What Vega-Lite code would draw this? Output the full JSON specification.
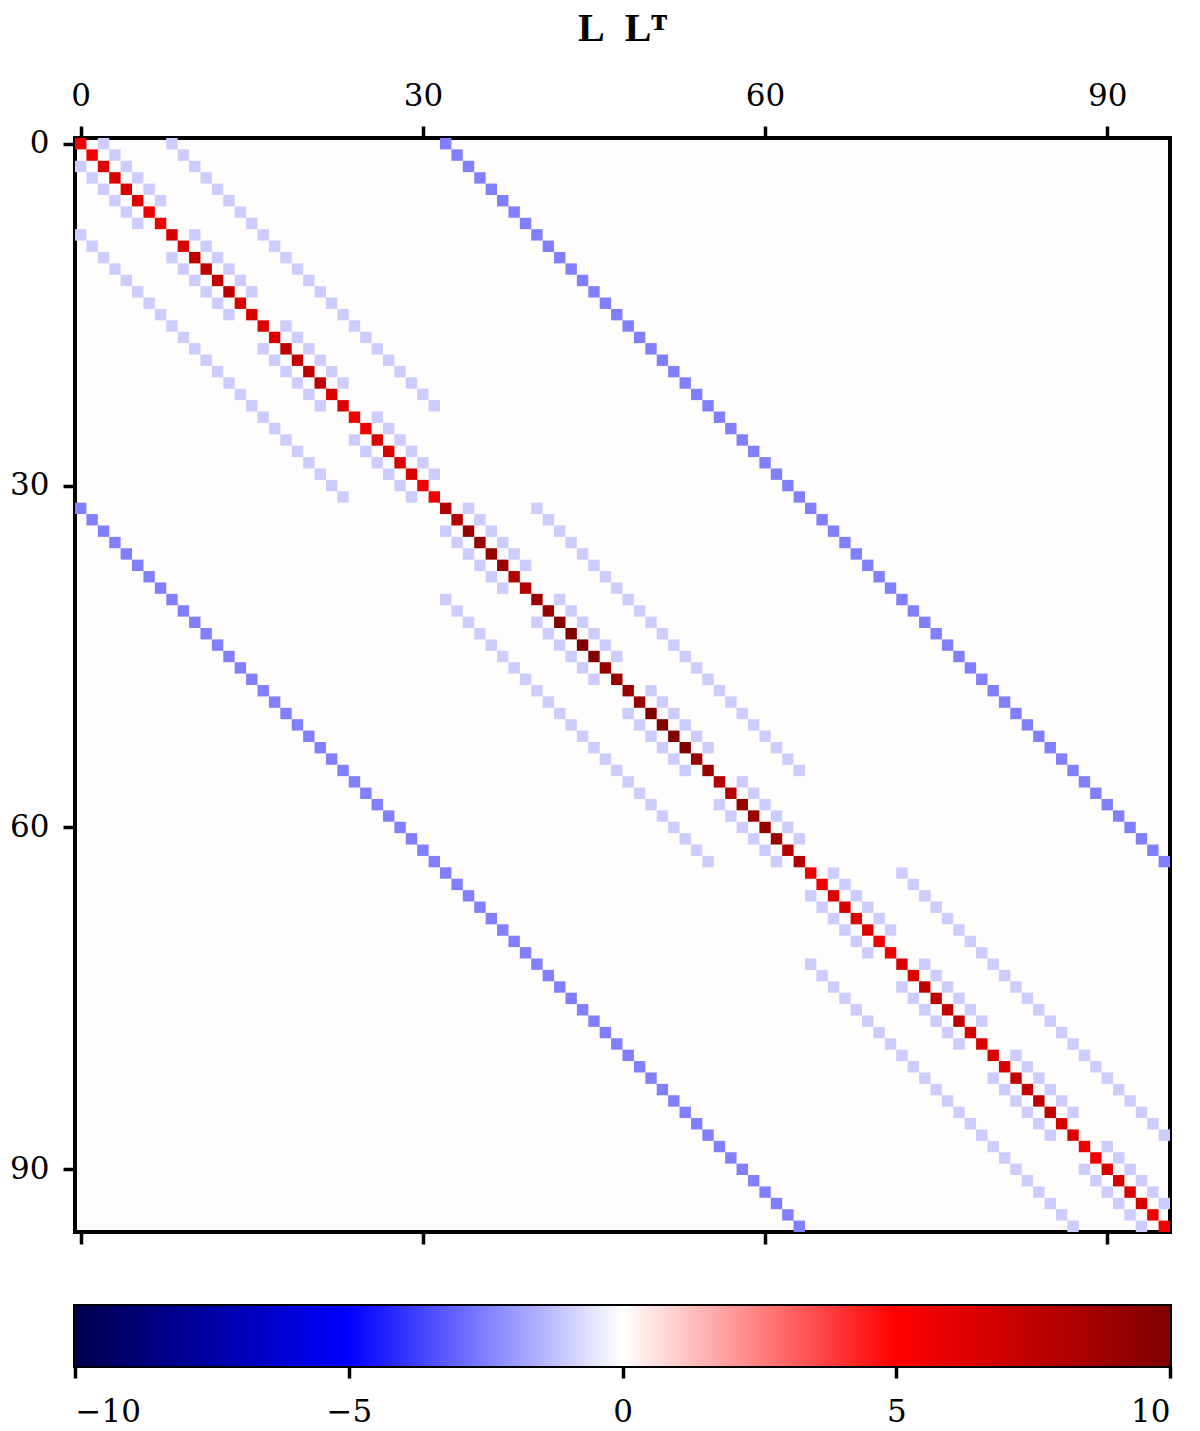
{
"$schema": "https://vega.github.io/schema/vega-lite/v6.json",
"background": "white",
"padding": {"left": 7, "top": 7, "right": 5, "bottom": 5},
"spacing": 56,
"config": {"font": "DejaVu Serif", "axis": {"domain": false, "grid": false, "tickColor": "black", "tickWidth": 3.5, "tickSize": 12, "labelColor": "black", "labelFont": "DejaVu Serif", "labelFontSize": 31, "labelPadding": 14, "title": null}},
"vconcat": [
{
"title": {"text": "L\u2002L\u1D40", "font": "Liberation Serif, DejaVu Sans", "fontSize": 40, "fontWeight": "bold", "color": "black", "anchor": "middle", "offset": 31},
"width": 1095, "height": 1094,
"view": {"fill": "#fffcfc", "stroke": "black", "strokeWidth": 4},
"data": {"values": [
{"row":0,"col":0,"value":5.5},{"row":1,"col":1,"value":5.5},{"row":2,"col":2,"value":6.5},{"row":3,"col":3,"value":6.5},{"row":4,"col":4,"value":6.5},{"row":5,"col":5,"value":6.5},{"row":6,"col":6,"value":5.5},{"row":7,"col":7,"value":5.5},{"row":8,"col":8,"value":6.5},{"row":9,"col":9,"value":6.5},{"row":10,"col":10,"value":7.5},{"row":11,"col":11,"value":7.5},{"row":12,"col":12,"value":7.5},{"row":13,"col":13,"value":7.5},{"row":14,"col":14,"value":6.5},{"row":15,"col":15,"value":6.5},{"row":16,"col":16,"value":6.5},{"row":17,"col":17,"value":6.5},{"row":18,"col":18,"value":7.5},{"row":19,"col":19,"value":7.5},{"row":20,"col":20,"value":7.5},{"row":21,"col":21,"value":7.5},{"row":22,"col":22,"value":6.5},{"row":23,"col":23,"value":6.5},{"row":24,"col":24,"value":5.5},{"row":25,"col":25,"value":5.5},{"row":26,"col":26,"value":6.5},{"row":27,"col":27,"value":6.5},{"row":28,"col":28,"value":6.5},{"row":29,"col":29,"value":6.5},{"row":30,"col":30,"value":5.5},{"row":31,"col":31,"value":5.5},
{"row":32,"col":32,"value":8},{"row":33,"col":33,"value":8},{"row":34,"col":34,"value":9},{"row":35,"col":35,"value":9},{"row":36,"col":36,"value":9},{"row":37,"col":37,"value":9},{"row":38,"col":38,"value":8},{"row":39,"col":39,"value":8},{"row":40,"col":40,"value":9},{"row":41,"col":41,"value":9},{"row":42,"col":42,"value":10},{"row":43,"col":43,"value":10},{"row":44,"col":44,"value":10},{"row":45,"col":45,"value":10},{"row":46,"col":46,"value":9},{"row":47,"col":47,"value":9},{"row":48,"col":48,"value":9},{"row":49,"col":49,"value":9},{"row":50,"col":50,"value":10},{"row":51,"col":51,"value":10},{"row":52,"col":52,"value":10},{"row":53,"col":53,"value":10},{"row":54,"col":54,"value":9},{"row":55,"col":55,"value":9},{"row":56,"col":56,"value":8},{"row":57,"col":57,"value":8},{"row":58,"col":58,"value":9},{"row":59,"col":59,"value":9},{"row":60,"col":60,"value":9},{"row":61,"col":61,"value":9},{"row":62,"col":62,"value":8},{"row":63,"col":63,"value":8},
{"row":64,"col":64,"value":5.5},{"row":65,"col":65,"value":5.5},{"row":66,"col":66,"value":6.5},{"row":67,"col":67,"value":6.5},{"row":68,"col":68,"value":6.5},{"row":69,"col":69,"value":6.5},{"row":70,"col":70,"value":5.5},{"row":71,"col":71,"value":5.5},{"row":72,"col":72,"value":6.5},{"row":73,"col":73,"value":6.5},{"row":74,"col":74,"value":7.5},{"row":75,"col":75,"value":7.5},{"row":76,"col":76,"value":7.5},{"row":77,"col":77,"value":7.5},{"row":78,"col":78,"value":6.5},{"row":79,"col":79,"value":6.5},{"row":80,"col":80,"value":6.5},{"row":81,"col":81,"value":6.5},{"row":82,"col":82,"value":7.5},{"row":83,"col":83,"value":7.5},{"row":84,"col":84,"value":7.5},{"row":85,"col":85,"value":7.5},{"row":86,"col":86,"value":6.5},{"row":87,"col":87,"value":6.5},{"row":88,"col":88,"value":5.5},{"row":89,"col":89,"value":5.5},{"row":90,"col":90,"value":6.5},{"row":91,"col":91,"value":6.5},{"row":92,"col":92,"value":6.5},{"row":93,"col":93,"value":6.5},{"row":94,"col":94,"value":5.5},{"row":95,"col":95,"value":5.5},
{"row":0,"col":2,"value":-1},{"row":1,"col":3,"value":-1},{"row":2,"col":4,"value":-1},{"row":3,"col":5,"value":-1},{"row":4,"col":6,"value":-1},{"row":5,"col":7,"value":-1},{"row":8,"col":10,"value":-1},{"row":9,"col":11,"value":-1},{"row":10,"col":12,"value":-1},{"row":11,"col":13,"value":-1},{"row":12,"col":14,"value":-1},{"row":13,"col":15,"value":-1},{"row":16,"col":18,"value":-1},{"row":17,"col":19,"value":-1},{"row":18,"col":20,"value":-1},{"row":19,"col":21,"value":-1},{"row":20,"col":22,"value":-1},{"row":21,"col":23,"value":-1},{"row":24,"col":26,"value":-1},{"row":25,"col":27,"value":-1},{"row":26,"col":28,"value":-1},{"row":27,"col":29,"value":-1},{"row":28,"col":30,"value":-1},{"row":29,"col":31,"value":-1},
{"row":32,"col":34,"value":-1},{"row":33,"col":35,"value":-1},{"row":34,"col":36,"value":-1},{"row":35,"col":37,"value":-1},{"row":36,"col":38,"value":-1},{"row":37,"col":39,"value":-1},{"row":40,"col":42,"value":-1},{"row":41,"col":43,"value":-1},{"row":42,"col":44,"value":-1},{"row":43,"col":45,"value":-1},{"row":44,"col":46,"value":-1},{"row":45,"col":47,"value":-1},{"row":48,"col":50,"value":-1},{"row":49,"col":51,"value":-1},{"row":50,"col":52,"value":-1},{"row":51,"col":53,"value":-1},{"row":52,"col":54,"value":-1},{"row":53,"col":55,"value":-1},{"row":56,"col":58,"value":-1},{"row":57,"col":59,"value":-1},{"row":58,"col":60,"value":-1},{"row":59,"col":61,"value":-1},{"row":60,"col":62,"value":-1},{"row":61,"col":63,"value":-1},
{"row":64,"col":66,"value":-1},{"row":65,"col":67,"value":-1},{"row":66,"col":68,"value":-1},{"row":67,"col":69,"value":-1},{"row":68,"col":70,"value":-1},{"row":69,"col":71,"value":-1},{"row":72,"col":74,"value":-1},{"row":73,"col":75,"value":-1},{"row":74,"col":76,"value":-1},{"row":75,"col":77,"value":-1},{"row":76,"col":78,"value":-1},{"row":77,"col":79,"value":-1},{"row":80,"col":82,"value":-1},{"row":81,"col":83,"value":-1},{"row":82,"col":84,"value":-1},{"row":83,"col":85,"value":-1},{"row":84,"col":86,"value":-1},{"row":85,"col":87,"value":-1},{"row":88,"col":90,"value":-1},{"row":89,"col":91,"value":-1},{"row":90,"col":92,"value":-1},{"row":91,"col":93,"value":-1},{"row":92,"col":94,"value":-1},{"row":93,"col":95,"value":-1},
{"row":2,"col":0,"value":-1},{"row":3,"col":1,"value":-1},{"row":4,"col":2,"value":-1},{"row":5,"col":3,"value":-1},{"row":6,"col":4,"value":-1},{"row":7,"col":5,"value":-1},{"row":10,"col":8,"value":-1},{"row":11,"col":9,"value":-1},{"row":12,"col":10,"value":-1},{"row":13,"col":11,"value":-1},{"row":14,"col":12,"value":-1},{"row":15,"col":13,"value":-1},{"row":18,"col":16,"value":-1},{"row":19,"col":17,"value":-1},{"row":20,"col":18,"value":-1},{"row":21,"col":19,"value":-1},{"row":22,"col":20,"value":-1},{"row":23,"col":21,"value":-1},{"row":26,"col":24,"value":-1},{"row":27,"col":25,"value":-1},{"row":28,"col":26,"value":-1},{"row":29,"col":27,"value":-1},{"row":30,"col":28,"value":-1},{"row":31,"col":29,"value":-1},
{"row":34,"col":32,"value":-1},{"row":35,"col":33,"value":-1},{"row":36,"col":34,"value":-1},{"row":37,"col":35,"value":-1},{"row":38,"col":36,"value":-1},{"row":39,"col":37,"value":-1},{"row":42,"col":40,"value":-1},{"row":43,"col":41,"value":-1},{"row":44,"col":42,"value":-1},{"row":45,"col":43,"value":-1},{"row":46,"col":44,"value":-1},{"row":47,"col":45,"value":-1},{"row":50,"col":48,"value":-1},{"row":51,"col":49,"value":-1},{"row":52,"col":50,"value":-1},{"row":53,"col":51,"value":-1},{"row":54,"col":52,"value":-1},{"row":55,"col":53,"value":-1},{"row":58,"col":56,"value":-1},{"row":59,"col":57,"value":-1},{"row":60,"col":58,"value":-1},{"row":61,"col":59,"value":-1},{"row":62,"col":60,"value":-1},{"row":63,"col":61,"value":-1},
{"row":66,"col":64,"value":-1},{"row":67,"col":65,"value":-1},{"row":68,"col":66,"value":-1},{"row":69,"col":67,"value":-1},{"row":70,"col":68,"value":-1},{"row":71,"col":69,"value":-1},{"row":74,"col":72,"value":-1},{"row":75,"col":73,"value":-1},{"row":76,"col":74,"value":-1},{"row":77,"col":75,"value":-1},{"row":78,"col":76,"value":-1},{"row":79,"col":77,"value":-1},{"row":82,"col":80,"value":-1},{"row":83,"col":81,"value":-1},{"row":84,"col":82,"value":-1},{"row":85,"col":83,"value":-1},{"row":86,"col":84,"value":-1},{"row":87,"col":85,"value":-1},{"row":90,"col":88,"value":-1},{"row":91,"col":89,"value":-1},{"row":92,"col":90,"value":-1},{"row":93,"col":91,"value":-1},{"row":94,"col":92,"value":-1},{"row":95,"col":93,"value":-1},
{"row":0,"col":8,"value":-1},{"row":1,"col":9,"value":-1},{"row":2,"col":10,"value":-1},{"row":3,"col":11,"value":-1},{"row":4,"col":12,"value":-1},{"row":5,"col":13,"value":-1},{"row":6,"col":14,"value":-1},{"row":7,"col":15,"value":-1},{"row":8,"col":16,"value":-1},{"row":9,"col":17,"value":-1},{"row":10,"col":18,"value":-1},{"row":11,"col":19,"value":-1},{"row":12,"col":20,"value":-1},{"row":13,"col":21,"value":-1},{"row":14,"col":22,"value":-1},{"row":15,"col":23,"value":-1},{"row":16,"col":24,"value":-1},{"row":17,"col":25,"value":-1},{"row":18,"col":26,"value":-1},{"row":19,"col":27,"value":-1},{"row":20,"col":28,"value":-1},{"row":21,"col":29,"value":-1},{"row":22,"col":30,"value":-1},{"row":23,"col":31,"value":-1},
{"row":32,"col":40,"value":-1},{"row":33,"col":41,"value":-1},{"row":34,"col":42,"value":-1},{"row":35,"col":43,"value":-1},{"row":36,"col":44,"value":-1},{"row":37,"col":45,"value":-1},{"row":38,"col":46,"value":-1},{"row":39,"col":47,"value":-1},{"row":40,"col":48,"value":-1},{"row":41,"col":49,"value":-1},{"row":42,"col":50,"value":-1},{"row":43,"col":51,"value":-1},{"row":44,"col":52,"value":-1},{"row":45,"col":53,"value":-1},{"row":46,"col":54,"value":-1},{"row":47,"col":55,"value":-1},{"row":48,"col":56,"value":-1},{"row":49,"col":57,"value":-1},{"row":50,"col":58,"value":-1},{"row":51,"col":59,"value":-1},{"row":52,"col":60,"value":-1},{"row":53,"col":61,"value":-1},{"row":54,"col":62,"value":-1},{"row":55,"col":63,"value":-1},
{"row":64,"col":72,"value":-1},{"row":65,"col":73,"value":-1},{"row":66,"col":74,"value":-1},{"row":67,"col":75,"value":-1},{"row":68,"col":76,"value":-1},{"row":69,"col":77,"value":-1},{"row":70,"col":78,"value":-1},{"row":71,"col":79,"value":-1},{"row":72,"col":80,"value":-1},{"row":73,"col":81,"value":-1},{"row":74,"col":82,"value":-1},{"row":75,"col":83,"value":-1},{"row":76,"col":84,"value":-1},{"row":77,"col":85,"value":-1},{"row":78,"col":86,"value":-1},{"row":79,"col":87,"value":-1},{"row":80,"col":88,"value":-1},{"row":81,"col":89,"value":-1},{"row":82,"col":90,"value":-1},{"row":83,"col":91,"value":-1},{"row":84,"col":92,"value":-1},{"row":85,"col":93,"value":-1},{"row":86,"col":94,"value":-1},{"row":87,"col":95,"value":-1},
{"row":8,"col":0,"value":-1},{"row":9,"col":1,"value":-1},{"row":10,"col":2,"value":-1},{"row":11,"col":3,"value":-1},{"row":12,"col":4,"value":-1},{"row":13,"col":5,"value":-1},{"row":14,"col":6,"value":-1},{"row":15,"col":7,"value":-1},{"row":16,"col":8,"value":-1},{"row":17,"col":9,"value":-1},{"row":18,"col":10,"value":-1},{"row":19,"col":11,"value":-1},{"row":20,"col":12,"value":-1},{"row":21,"col":13,"value":-1},{"row":22,"col":14,"value":-1},{"row":23,"col":15,"value":-1},{"row":24,"col":16,"value":-1},{"row":25,"col":17,"value":-1},{"row":26,"col":18,"value":-1},{"row":27,"col":19,"value":-1},{"row":28,"col":20,"value":-1},{"row":29,"col":21,"value":-1},{"row":30,"col":22,"value":-1},{"row":31,"col":23,"value":-1},
{"row":40,"col":32,"value":-1},{"row":41,"col":33,"value":-1},{"row":42,"col":34,"value":-1},{"row":43,"col":35,"value":-1},{"row":44,"col":36,"value":-1},{"row":45,"col":37,"value":-1},{"row":46,"col":38,"value":-1},{"row":47,"col":39,"value":-1},{"row":48,"col":40,"value":-1},{"row":49,"col":41,"value":-1},{"row":50,"col":42,"value":-1},{"row":51,"col":43,"value":-1},{"row":52,"col":44,"value":-1},{"row":53,"col":45,"value":-1},{"row":54,"col":46,"value":-1},{"row":55,"col":47,"value":-1},{"row":56,"col":48,"value":-1},{"row":57,"col":49,"value":-1},{"row":58,"col":50,"value":-1},{"row":59,"col":51,"value":-1},{"row":60,"col":52,"value":-1},{"row":61,"col":53,"value":-1},{"row":62,"col":54,"value":-1},{"row":63,"col":55,"value":-1},
{"row":72,"col":64,"value":-1},{"row":73,"col":65,"value":-1},{"row":74,"col":66,"value":-1},{"row":75,"col":67,"value":-1},{"row":76,"col":68,"value":-1},{"row":77,"col":69,"value":-1},{"row":78,"col":70,"value":-1},{"row":79,"col":71,"value":-1},{"row":80,"col":72,"value":-1},{"row":81,"col":73,"value":-1},{"row":82,"col":74,"value":-1},{"row":83,"col":75,"value":-1},{"row":84,"col":76,"value":-1},{"row":85,"col":77,"value":-1},{"row":86,"col":78,"value":-1},{"row":87,"col":79,"value":-1},{"row":88,"col":80,"value":-1},{"row":89,"col":81,"value":-1},{"row":90,"col":82,"value":-1},{"row":91,"col":83,"value":-1},{"row":92,"col":84,"value":-1},{"row":93,"col":85,"value":-1},{"row":94,"col":86,"value":-1},{"row":95,"col":87,"value":-1},
{"row":0,"col":32,"value":-2.5},{"row":1,"col":33,"value":-2.5},{"row":2,"col":34,"value":-2.5},{"row":3,"col":35,"value":-2.5},{"row":4,"col":36,"value":-2.5},{"row":5,"col":37,"value":-2.5},{"row":6,"col":38,"value":-2.5},{"row":7,"col":39,"value":-2.5},{"row":8,"col":40,"value":-2.5},{"row":9,"col":41,"value":-2.5},{"row":10,"col":42,"value":-2.5},{"row":11,"col":43,"value":-2.5},{"row":12,"col":44,"value":-2.5},{"row":13,"col":45,"value":-2.5},{"row":14,"col":46,"value":-2.5},{"row":15,"col":47,"value":-2.5},{"row":16,"col":48,"value":-2.5},{"row":17,"col":49,"value":-2.5},{"row":18,"col":50,"value":-2.5},{"row":19,"col":51,"value":-2.5},{"row":20,"col":52,"value":-2.5},{"row":21,"col":53,"value":-2.5},{"row":22,"col":54,"value":-2.5},{"row":23,"col":55,"value":-2.5},{"row":24,"col":56,"value":-2.5},{"row":25,"col":57,"value":-2.5},{"row":26,"col":58,"value":-2.5},{"row":27,"col":59,"value":-2.5},{"row":28,"col":60,"value":-2.5},{"row":29,"col":61,"value":-2.5},{"row":30,"col":62,"value":-2.5},{"row":31,"col":63,"value":-2.5},
{"row":32,"col":64,"value":-2.5},{"row":33,"col":65,"value":-2.5},{"row":34,"col":66,"value":-2.5},{"row":35,"col":67,"value":-2.5},{"row":36,"col":68,"value":-2.5},{"row":37,"col":69,"value":-2.5},{"row":38,"col":70,"value":-2.5},{"row":39,"col":71,"value":-2.5},{"row":40,"col":72,"value":-2.5},{"row":41,"col":73,"value":-2.5},{"row":42,"col":74,"value":-2.5},{"row":43,"col":75,"value":-2.5},{"row":44,"col":76,"value":-2.5},{"row":45,"col":77,"value":-2.5},{"row":46,"col":78,"value":-2.5},{"row":47,"col":79,"value":-2.5},{"row":48,"col":80,"value":-2.5},{"row":49,"col":81,"value":-2.5},{"row":50,"col":82,"value":-2.5},{"row":51,"col":83,"value":-2.5},{"row":52,"col":84,"value":-2.5},{"row":53,"col":85,"value":-2.5},{"row":54,"col":86,"value":-2.5},{"row":55,"col":87,"value":-2.5},{"row":56,"col":88,"value":-2.5},{"row":57,"col":89,"value":-2.5},{"row":58,"col":90,"value":-2.5},{"row":59,"col":91,"value":-2.5},{"row":60,"col":92,"value":-2.5},{"row":61,"col":93,"value":-2.5},{"row":62,"col":94,"value":-2.5},{"row":63,"col":95,"value":-2.5},
{"row":32,"col":0,"value":-2.5},{"row":33,"col":1,"value":-2.5},{"row":34,"col":2,"value":-2.5},{"row":35,"col":3,"value":-2.5},{"row":36,"col":4,"value":-2.5},{"row":37,"col":5,"value":-2.5},{"row":38,"col":6,"value":-2.5},{"row":39,"col":7,"value":-2.5},{"row":40,"col":8,"value":-2.5},{"row":41,"col":9,"value":-2.5},{"row":42,"col":10,"value":-2.5},{"row":43,"col":11,"value":-2.5},{"row":44,"col":12,"value":-2.5},{"row":45,"col":13,"value":-2.5},{"row":46,"col":14,"value":-2.5},{"row":47,"col":15,"value":-2.5},{"row":48,"col":16,"value":-2.5},{"row":49,"col":17,"value":-2.5},{"row":50,"col":18,"value":-2.5},{"row":51,"col":19,"value":-2.5},{"row":52,"col":20,"value":-2.5},{"row":53,"col":21,"value":-2.5},{"row":54,"col":22,"value":-2.5},{"row":55,"col":23,"value":-2.5},{"row":56,"col":24,"value":-2.5},{"row":57,"col":25,"value":-2.5},{"row":58,"col":26,"value":-2.5},{"row":59,"col":27,"value":-2.5},{"row":60,"col":28,"value":-2.5},{"row":61,"col":29,"value":-2.5},{"row":62,"col":30,"value":-2.5},{"row":63,"col":31,"value":-2.5},
{"row":64,"col":32,"value":-2.5},{"row":65,"col":33,"value":-2.5},{"row":66,"col":34,"value":-2.5},{"row":67,"col":35,"value":-2.5},{"row":68,"col":36,"value":-2.5},{"row":69,"col":37,"value":-2.5},{"row":70,"col":38,"value":-2.5},{"row":71,"col":39,"value":-2.5},{"row":72,"col":40,"value":-2.5},{"row":73,"col":41,"value":-2.5},{"row":74,"col":42,"value":-2.5},{"row":75,"col":43,"value":-2.5},{"row":76,"col":44,"value":-2.5},{"row":77,"col":45,"value":-2.5},{"row":78,"col":46,"value":-2.5},{"row":79,"col":47,"value":-2.5},{"row":80,"col":48,"value":-2.5},{"row":81,"col":49,"value":-2.5},{"row":82,"col":50,"value":-2.5},{"row":83,"col":51,"value":-2.5},{"row":84,"col":52,"value":-2.5},{"row":85,"col":53,"value":-2.5},{"row":86,"col":54,"value":-2.5},{"row":87,"col":55,"value":-2.5},{"row":88,"col":56,"value":-2.5},{"row":89,"col":57,"value":-2.5},{"row":90,"col":58,"value":-2.5},{"row":91,"col":59,"value":-2.5},{"row":92,"col":60,"value":-2.5},{"row":93,"col":61,"value":-2.5},{"row":94,"col":62,"value":-2.5},{"row":95,"col":63,"value":-2.5}
]},
"layer": [
{
"mark": {"type": "square", "size": 130, "opacity": 1, "strokeWidth": 0},
"encoding": {
"x": {"field": "col", "type": "quantitative", "scale": {"domain": [-0.5, 95.5], "nice": false, "zero": false}, "axis": {"orient": "top", "values": [0, 30, 60, 90]}},
"y": {"field": "row", "type": "quantitative", "scale": {"domain": [-0.5, 95.5], "nice": false, "zero": false, "reverse": true}, "axis": {"orient": "left", "values": [0, 30, 60, 90]}},
"color": {"field": "value", "type": "quantitative", "scale": {"type": "linear", "domain": [-10, -5, 0, 5, 10], "range": ["#00004d", "#0000ff", "#ffffff", "#ff0000", "#800000"], "interpolate": "rgb"}, "legend": null}
}
},
{
"mark": {"type": "square", "size": 130, "opacity": 0},
"encoding": {
"x": {"field": "col", "type": "quantitative", "axis": {"orient": "bottom", "values": [0, 30, 60, 90], "labels": false}},
"y": {"field": "row", "type": "quantitative"}
}
}
],
"resolve": {"axis": {"x": "independent"}}
},
{
"width": 1095, "height": 60,
"view": {"stroke": "black", "strokeWidth": 4},
"data": {"values": [{"lo": -10, "hi": 10}]},
"mark": {"type": "rect", "fill": {"gradient": "linear", "x1": 0, "y1": 0, "x2": 1, "y2": 0, "stops": [{"offset": 0, "color": "#00004d"}, {"offset": 0.25, "color": "#0000ff"}, {"offset": 0.5, "color": "#ffffff"}, {"offset": 0.75, "color": "#ff0000"}, {"offset": 1, "color": "#800000"}]}},
"encoding": {
"x": {"field": "lo", "type": "quantitative", "scale": {"domain": [-10, 10], "nice": false, "zero": false}, "axis": {"orient": "bottom", "values": [-10, -5, 0, 5, 10], "labelExpr": "replace(datum.label, '-', '−')", "labelPadding": 19}},
"x2": {"field": "hi"}
}
}
]
}
